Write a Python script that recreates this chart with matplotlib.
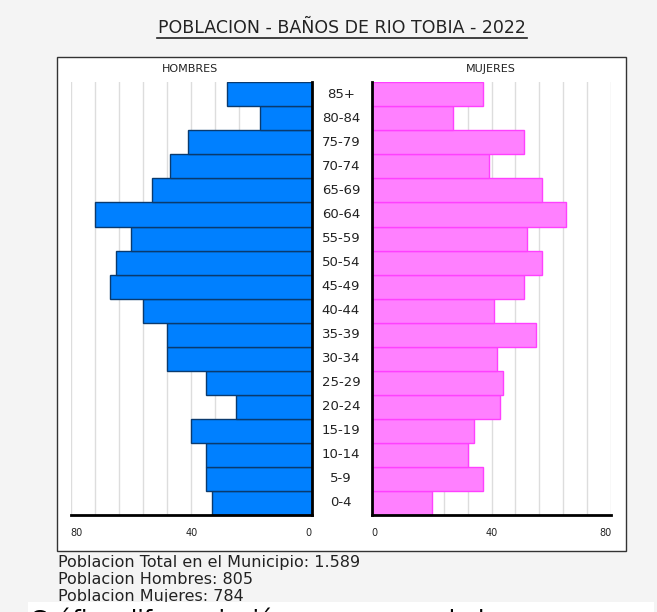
import matplotlib
matplotlib.use("Agg")
import matplotlib.pyplot as plt
from matplotlib.patches import Rectangle
from matplotlib.lines import Line2D

# Age groups, bottom to top
AGES = ["0-4", "5-9", "10-14", "15-19", "20-24", "25-29", "30-34", "35-39",
        "40-44", "45-49", "50-54", "55-59", "60-64", "65-69", "70-74",
        "75-79", "80-84", "85+"]
HOMBRES = [33, 35, 35, 40, 25, 35, 48, 48, 56, 67, 65, 60, 72, 53, 47, 41, 17, 28]
MUJERES = [20, 37, 32, 34, 43, 44, 42, 55, 41, 51, 57, 52, 65, 57, 39, 51, 27, 37]
X_TICKS = [0, 40, 80]
GRID_STEP = 8
TITLE = "POBLACION - BAÑOS DE RIO TOBIA - 2022"
FOOTER = ["Poblacion Total en el Municipio: 1.589",
          "Poblacion Hombres: 805",
          "Poblacion Mujeres: 784"]

W, H = 657, 612


def fx(px):
    return px / W


def fy(py):
    return 1 - py / H


fig = plt.figure(figsize=(W / 100, H / 100), dpi=100)
fig.patch.set_facecolor("#f4f4f4")

# white panel with border (behind the axes)
fig.patches.append(Rectangle((fx(57), fy(551)), fx(626) - fx(57), fy(57) - fy(551),
                             transform=fig.transFigure, facecolor="white",
                             edgecolor="#333333", lw=1.0, zorder=-5))

# white strip at the bottom with clipped caption, covering the last footer line
fig.patches.append(Rectangle((fx(28), 0), fx(654) - fx(28), fy(602),
                             transform=fig.transFigure, facecolor="white",
                             edgecolor="none", zorder=5))
fig.text(fx(30), fy(628), "Gráfica diferenciación por sexo y edad",
         fontsize=17, color="black", va="baseline", ha="left", zorder=6)

ax_bottom = fy(515)
ax_height = fy(82.3) - fy(515)
axL = fig.add_axes([fx(70.7), ax_bottom, fx(311.7) - fx(70.7), ax_height])
axR = fig.add_axes([fx(371.7), ax_bottom, fx(611.3) - fx(371.7), ax_height])

ypos = list(range(len(AGES)))
grid = list(range(GRID_STEP, 81, GRID_STEP))

for ax, vals, fc, ec in [(axL, HOMBRES, "#0080ff", "#0a3a6e"),
                         (axR, MUJERES, "#ff80ff", "#ff40ff")]:
    ax.set_facecolor("white")
    ax.barh(ypos, vals, height=1.0, color=fc, edgecolor=ec, lw=1.0, zorder=2)
    for g in grid:
        ax.axvline(g, color="#dddddd", lw=1.0, zorder=1)
    ax.set_xlim(0, 80)
    ax.set_ylim(-0.5, len(AGES) - 0.5)
    ax.set_yticks([])
    ax.set_xticks(X_TICKS)
    ax.set_xticklabels([str(t) for t in X_TICKS], fontsize=7, color="#222222")
    ax.tick_params(axis="x", length=0, pad=9)
    for s in ax.spines.values():
        s.set_visible(False)
    ax.spines["bottom"].set_visible(True)
    ax.spines["bottom"].set_linewidth(2)
    ax.spines["bottom"].set_color("black")

axL.invert_xaxis()
axL.spines["right"].set_visible(True)
axL.spines["right"].set_linewidth(2)
axL.spines["right"].set_color("black")
axR.spines["left"].set_visible(True)
axR.spines["left"].set_linewidth(2)
axR.spines["left"].set_color("black")

# inward alignment of end labels
labs = axL.get_xticklabels()
labs[0].set_ha("right")
labs[2].set_ha("left")
labs = axR.get_xticklabels()
labs[0].set_ha("left")
labs[2].set_ha("right")

# age labels in the middle
for i, a in enumerate(AGES):
    yc = 515 - (i + 0.5) * (515 - 82.3) / len(AGES)
    fig.text(fx(341), fy(yc), a, fontsize=9.5, color="#222222", ha="center", va="center")

fig.text(fx(190), fy(69), "HOMBRES", fontsize=8, color="#222222", ha="center", va="center")
fig.text(fx(491), fy(69), "MUJERES", fontsize=8, color="#222222", ha="center", va="center")

# title with underline
t = fig.text(fx(342), fy(28), TITLE, fontsize=12.5, color="#222222", ha="center", va="center")
fig.canvas.draw()
bb = t.get_window_extent()
uy = bb.y0 - 1
fig.lines.append(Line2D([bb.x0 / W - 0.002, bb.x1 / W + 0.002], [uy / H, uy / H],
                        transform=fig.transFigure, color="#222222", lw=1.2))

for k, line in enumerate(FOOTER):
    fig.text(fx(58), fy(563 + 17 * k), line, fontsize=11.5, color="#222222",
             ha="left", va="center", zorder=1)

fig.savefig("out.png", dpi=100, facecolor=fig.get_facecolor())
